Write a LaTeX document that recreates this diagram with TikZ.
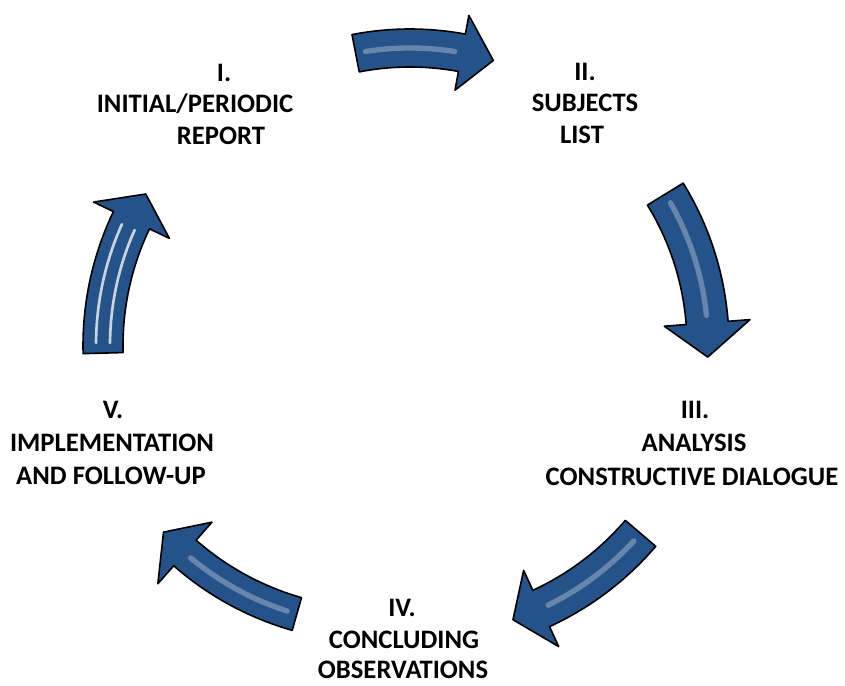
\documentclass[tikz,border=0pt]{standalone}
\usepackage{fontspec}
\setmainfont{Carlito}
\definecolor{arrowblue}{RGB}{38,82,138}
\tikzset{
  arrowbody/.style={fill=arrowblue, draw=black, very thick, line join=round},
  gloss/.style={draw=white, opacity=.3, line width=4pt, line cap=round},
  shine/.style={draw=white, opacity=.75, line width=2pt, line cap=round},
  steplabel/.style={font=\bfseries\fontsize{20}{24}\selectfont, anchor=base, inner sep=0pt}
}
% centre x, centre y, radius, tail angle, head angle, tip angle, half width, head half width, stripes
\newcommand\cyclearrow[9]{%
  \begin{scope}[shift={(#1,#2)}]
    \pgfmathsetmacro\arO{#3+#7}
    \pgfmathsetmacro\arI{#3-#7}
    \pgfmathsetmacro\hdO{#3+#8}
    \pgfmathsetmacro\hdI{#3-#8}
    \draw[arrowbody] (#4:\arO) arc (#4:#5:\arO) -- (#5:\hdO) -- (#6:#3)
      -- (#5:\hdI) -- (#5:\arI) arc (#5:#4:\arI) -- cycle;
    \pgfmathsetmacro\ga{#4+2}
    \pgfmathsetmacro\gb{#5-1.5}
    \foreach \g/\gs in {#9} {
      \pgfmathsetmacro\rg{#3+\g}
      \draw[\gs] (\ga:\rg) arc (\ga:\gb:\rg);
    }
  \end{scope}}
\begin{document}
\begin{tikzpicture}[x=0.75pt, y=-0.75pt]
  \useasboundingbox (0,0) rectangle (845,685);

  % the five arrows of the cycle
  \cyclearrow{410}{333}{285}{259}{280.5}{287}{19}{38}{0/gloss}
  \cyclearrow{420}{345}{288}{328.4}{355.6}{362.4}{21}{43}{0/gloss}
  \cyclearrow{420}{345}{290}{40.5}{65.3}{71.3}{20}{42}{0/gloss}
  \cyclearrow{376.3}{335.1}{290}{105.9}{131.3}{137.2}{17}{41}{0/gloss}
  \cyclearrow{393}{345.5}{290}{178.5}{205.6}{211.5}{20}{42}{-7/shine,7/shine}

  % stage labels
  \node[steplabel] (rep1) at (224,81) {I.};
  \node[steplabel] (rep2) at (195,112) {INITIAL/PERIODIC};
  \node[steplabel] (rep3) at (221,144) {REPORT};

  \node[steplabel] (sub1) at (585,80) {II.};
  \node[steplabel] (sub2) at (585,111) {SUBJECTS};
  \node[steplabel] (sub3) at (582,143) {LIST};

  \node[steplabel] (ana1) at (695,418) {III.};
  \node[steplabel] (ana2) at (694,451) {ANALYSIS};
  \node[steplabel] (ana3) at (692,485) {CONSTRUCTIVE DIALOGUE};

  \node[steplabel] (obs1) at (402,616) {IV.};
  \node[steplabel] (obs2) at (404,648) {CONCLUDING};
  \node[steplabel] (obs3) at (403,678) {OBSERVATIONS};

  \node[steplabel] (imp1) at (113,418) {V.};
  \node[steplabel] (imp2) at (112,451) {IMPLEMENTATION};
  \node[steplabel] (imp3) at (111,484) {AND FOLLOW-UP};
\end{tikzpicture}
\end{document}
